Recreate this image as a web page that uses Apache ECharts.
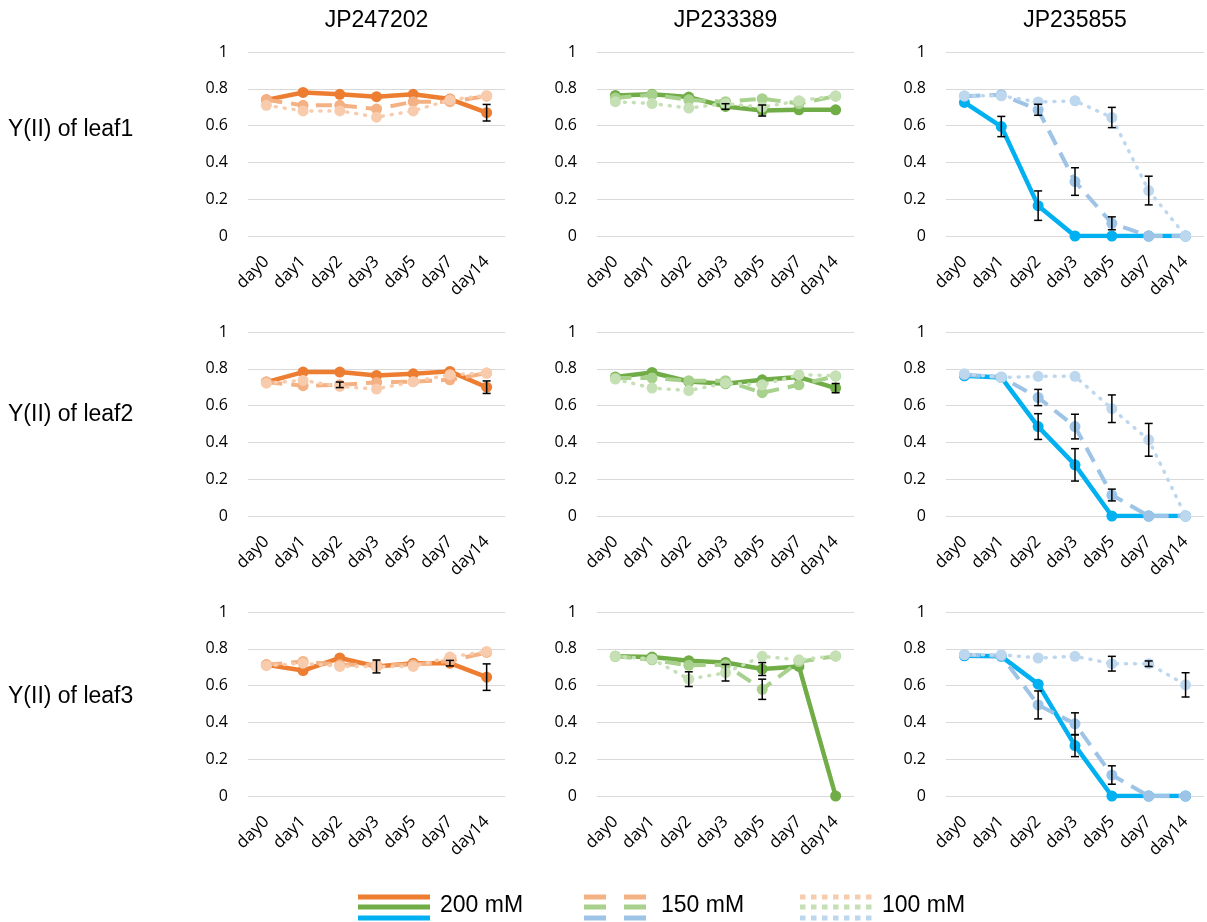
<!DOCTYPE html>
<html>
<head>
<meta charset="utf-8">
<script src="https://cdn.jsdelivr.net/npm/echarts@6/dist/echarts.min.js"></script>
<style>
html,body{margin:0;padding:0;background:#fff;}
#chart{width:1207px;height:922px;}
</style>
</head>
<body>
<div id="chart"></div>
<script>
// ---------- data ----------
const days = ['day0','day1','day2','day3','day5','day7','day14'];
const cultivars = ['JP247202','JP233389','JP235855'];
const rowLabels = ['Y(II) of leaf1','Y(II) of leaf2','Y(II) of leaf3'];
const legendLabels = ['200 mM','150 mM','100 mM'];
const yTicks = [0,0.2,0.4,0.6,0.8,1];

// leaf1
const leaf1_JP247202_200 = [0.74,0.78,0.77,0.757,0.77,0.744,0.67];
const leaf1_JP247202_150 = [0.74,0.71,0.71,0.69,0.73,0.73,0.76];
const leaf1_JP247202_100 = [0.71,0.68,0.68,0.646,0.68,0.74,0.764];
const leaf1_JP233389_200 = [0.764,0.77,0.755,0.704,0.682,0.686,0.686];
const leaf1_JP233389_150 = [0.75,0.768,0.74,0.73,0.746,0.72,0.76];
const leaf1_JP233389_100 = [0.73,0.72,0.695,0.72,0.70,0.735,0.762];
const leaf1_JP235855_200 = [0.726,0.595,0.165,0,0,0,0];
const leaf1_JP235855_150 = [0.76,0.768,0.686,0.296,0.069,0,0];
const leaf1_JP235855_100 = [0.762,0.762,0.728,0.735,0.644,0.247,0];
// leaf2
const leaf2_JP247202_200 = [0.728,0.782,0.782,0.764,0.773,0.786,0.70];
const leaf2_JP247202_150 = [0.728,0.708,0.713,0.726,0.73,0.74,0.777];
const leaf2_JP247202_100 = [0.722,0.737,0.704,0.69,0.73,0.768,0.777];
const leaf2_JP233389_200 = [0.755,0.78,0.731,0.719,0.74,0.755,0.695];
const leaf2_JP233389_150 = [0.75,0.75,0.735,0.735,0.67,0.713,0.76];
const leaf2_JP233389_100 = [0.744,0.695,0.682,0.722,0.713,0.768,0.762];
const leaf2_JP235855_200 = [0.762,0.753,0.486,0.278,0,0,0];
const leaf2_JP235855_150 = [0.768,0.755,0.644,0.486,0.114,0,0];
const leaf2_JP235855_100 = [0.773,0.753,0.759,0.759,0.583,0.414,0];
// leaf3
const leaf3_JP247202_200 = [0.713,0.682,0.75,0.704,0.722,0.722,0.646];
const leaf3_JP247202_150 = [0.713,0.731,0.713,0.713,0.713,0.735,0.78];
const leaf3_JP247202_100 = [0.708,0.722,0.704,0.704,0.704,0.755,0.786];
const leaf3_JP233389_200 = [0.759,0.755,0.735,0.726,0.69,0.704,0];
const leaf3_JP233389_150 = [0.759,0.74,0.71,0.713,0.58,0.73,0.76];
const leaf3_JP233389_100 = [0.759,0.745,0.635,0.67,0.759,0.74,0.762];
const leaf3_JP235855_200 = [0.762,0.759,0.608,0.274,0,0,0];
const leaf3_JP235855_150 = [0.768,0.762,0.495,0.392,0.114,0,0];
const leaf3_JP235855_100 = [0.768,0.768,0.75,0.759,0.719,0.719,0.604];

// error bars (± values)
const err_leaf1_JP247202_200 = [0,0,0,0,0,0,0.045];
const err_leaf1_JP247202_150 = [0,0,0,0,0,0,0];
const err_leaf1_JP247202_100 = [0,0,0,0,0,0,0];
const err_leaf1_JP233389_200 = [0,0,0,0.015,0.03,0,0];
const err_leaf1_JP233389_150 = [0,0,0,0,0,0,0];
const err_leaf1_JP233389_100 = [0,0,0,0,0,0,0];
const err_leaf1_JP235855_200 = [0,0.055,0.08,0,0,0,0];
const err_leaf1_JP235855_150 = [0,0,0.03,0.075,0.035,0,0];
const err_leaf1_JP235855_100 = [0,0,0,0,0.055,0.078,0];
const err_leaf2_JP247202_200 = [0,0,0,0,0,0,0.034];
const err_leaf2_JP247202_150 = [0,0,0.015,0,0,0,0];
const err_leaf2_JP247202_100 = [0,0,0,0,0,0,0];
const err_leaf2_JP233389_200 = [0,0,0,0,0,0,0.025];
const err_leaf2_JP233389_150 = [0,0,0,0,0,0,0];
const err_leaf2_JP233389_100 = [0,0,0,0,0,0,0];
const err_leaf2_JP235855_200 = [0,0,0.07,0.088,0,0,0];
const err_leaf2_JP235855_150 = [0,0,0.044,0.067,0.032,0,0];
const err_leaf2_JP235855_100 = [0,0,0,0,0.075,0.089,0];
const err_leaf3_JP247202_200 = [0,0,0,0.035,0,0.015,0.072];
const err_leaf3_JP247202_150 = [0,0,0,0,0,0,0];
const err_leaf3_JP247202_100 = [0,0,0,0,0,0,0];
const err_leaf3_JP233389_200 = [0,0,0,0,0.035,0,0];
const err_leaf3_JP233389_150 = [0,0,0,0,0.055,0,0];
const err_leaf3_JP233389_100 = [0,0,0.04,0.045,0,0,0];
const err_leaf3_JP235855_200 = [0,0,0,0.06,0,0,0];
const err_leaf3_JP235855_150 = [0,0,0.076,0.06,0.05,0,0];
const err_leaf3_JP235855_100 = [0,0,0,0,0.04,0.015,0.066];

// ---------- assembly ----------
const panelData = [
  [[leaf1_JP247202_200,leaf1_JP247202_150,leaf1_JP247202_100],[err_leaf1_JP247202_200,err_leaf1_JP247202_150,err_leaf1_JP247202_100]],
  [[leaf1_JP233389_200,leaf1_JP233389_150,leaf1_JP233389_100],[err_leaf1_JP233389_200,err_leaf1_JP233389_150,err_leaf1_JP233389_100]],
  [[leaf1_JP235855_200,leaf1_JP235855_150,leaf1_JP235855_100],[err_leaf1_JP235855_200,err_leaf1_JP235855_150,err_leaf1_JP235855_100]],
  [[leaf2_JP247202_200,leaf2_JP247202_150,leaf2_JP247202_100],[err_leaf2_JP247202_200,err_leaf2_JP247202_150,err_leaf2_JP247202_100]],
  [[leaf2_JP233389_200,leaf2_JP233389_150,leaf2_JP233389_100],[err_leaf2_JP233389_200,err_leaf2_JP233389_150,err_leaf2_JP233389_100]],
  [[leaf2_JP235855_200,leaf2_JP235855_150,leaf2_JP235855_100],[err_leaf2_JP235855_200,err_leaf2_JP235855_150,err_leaf2_JP235855_100]],
  [[leaf3_JP247202_200,leaf3_JP247202_150,leaf3_JP247202_100],[err_leaf3_JP247202_200,err_leaf3_JP247202_150,err_leaf3_JP247202_100]],
  [[leaf3_JP233389_200,leaf3_JP233389_150,leaf3_JP233389_100],[err_leaf3_JP233389_200,err_leaf3_JP233389_150,err_leaf3_JP233389_100]],
  [[leaf3_JP235855_200,leaf3_JP235855_150,leaf3_JP235855_100],[err_leaf3_JP235855_200,err_leaf3_JP235855_150,err_leaf3_JP235855_100]]
];

const palettes = [
  ['#ED7D31','#F4B183','#F8CBAD'],
  ['#70AD47','#A9D18E','#C5E0B4'],
  ['#00B0F0','#9DC3E6','#BDD7EE']
];
const colLeft = [248, 597, 946];
const colWidth = [257, 257, 258];
const rowTop = [52, 332, 612];
const plotH = 184;

const tickFont = '"Open Sans", "DejaVu Sans", sans-serif';
const textFont = '"Liberation Sans", Arial, sans-serif';

const grids = [], xAxes = [], yAxes = [], series = [];
for (let p = 0; p < 9; p++) {
  const r = Math.floor(p / 3), c = p % 3;
  grids.push({left: colLeft[c], top: rowTop[r], width: colWidth[c], height: plotH, containLabel: false});
  xAxes.push({
    type: 'category', gridIndex: p, data: days, boundaryGap: true,
    axisLine: {show: false}, axisTick: {show: false},
    axisLabel: {rotate: 45, interval: 0, fontSize: 17, fontFamily: tickFont, color: '#000', margin: 23},
    splitLine: {show: false}
  });
  yAxes.push({
    type: 'value', gridIndex: p, min: 0, max: 1, interval: 0.2,
    axisLine: {show: false}, axisTick: {show: false},
    axisLabel: {fontSize: 16, fontFamily: tickFont, color: '#000', margin: 20,
      formatter: v => { const t = yTicks.find(k => Math.abs(k - v) < 1e-6); return t === undefined ? '' : String(t); }},
    splitLine: {lineStyle: {color: '#D9D9D9', width: 1}}
  });
  const [vals, errs] = panelData[p];
  const pal = palettes[c];
  const styles = [
    {width: 4.5, type: 'solid'},
    {width: 4, type: [16, 9]},
    {width: 3.5, type: [1, 8], cap: 'round'}
  ];
  for (let s = 0; s < 3; s++) {
    series.push({
      type: 'line', xAxisIndex: p, yAxisIndex: p, name: legendLabels[s],
      data: vals[s], symbol: 'circle', symbolSize: 11, showSymbol: true,
      itemStyle: {color: pal[s], borderWidth: 0},
      lineStyle: Object.assign({color: pal[s]}, styles[s]),
      z: 2 + s, silent: true, animation: false
    });
  }
  // error bars
  const ebData = [];
  for (let s = 0; s < 3; s++) {
    for (let i = 0; i < days.length; i++) {
      if (errs[s][i] > 0) ebData.push([i, vals[s][i], errs[s][i]]);
    }
  }
  series.push({
    type: 'custom', xAxisIndex: p, yAxisIndex: p, data: ebData, z: 10, silent: true, animation: false,
    encode: {x: 0, y: 1},
    renderItem: function (params, api) {
      const x = api.value(0), v = api.value(1), e = api.value(2);
      const top = api.coord([x, v + e]);
      const bot = api.coord([x, v - e]);
      const hw = 4;
      const st = {stroke: '#000', lineWidth: 1.5};
      return {type: 'group', children: [
        {type: 'line', shape: {x1: top[0], y1: top[1], x2: bot[0], y2: bot[1]}, style: st},
        {type: 'line', shape: {x1: top[0] - hw, y1: top[1], x2: top[0] + hw, y2: top[1]}, style: st},
        {type: 'line', shape: {x1: bot[0] - hw, y1: bot[1], x2: bot[0] + hw, y2: bot[1]}, style: st}
      ]};
    }
  });
}

// text & legend graphics
const graphics = [];
for (let c = 0; c < 3; c++) {
  graphics.push({type: 'text', x: colLeft[c] + colWidth[c] / 2, y: 21,
    style: {text: cultivars[c], font: '23px ' + textFont, fill: '#000', align: 'center', verticalAlign: 'middle', textAlign: 'center', textVerticalAlign: 'middle'}});
}
const rowLabelY = [130, 415, 697];
for (let r = 0; r < 3; r++) {
  graphics.push({type: 'text', x: 8, y: rowLabelY[r],
    style: {text: rowLabels[r], font: '23px ' + textFont, fill: '#000', align: 'left', verticalAlign: 'middle', textAlign: 'left', textVerticalAlign: 'middle'}});
}
const legX = [[358, 430], [584, 650], [800, 872]];
const legTextX = [440, 661, 882];
const legLineY = [897, 907, 918];
const legDash = [null, [22, 18], [5.5, 5.5]];
for (let s = 0; s < 3; s++) {
  for (let c = 0; c < 3; c++) {
    const st = {stroke: palettes[c][s], lineWidth: 5};
    if (legDash[s]) st.lineDash = legDash[s];
    graphics.push({type: 'line', shape: {x1: legX[s][0], y1: legLineY[c], x2: legX[s][1], y2: legLineY[c]}, style: st});
  }
  graphics.push({type: 'text', x: legTextX[s], y: 906,
    style: {text: legendLabels[s], font: '23px ' + textFont, fill: '#000', align: 'left', verticalAlign: 'middle', textAlign: 'left', textVerticalAlign: 'middle'}});
}

const chart = echarts.init(document.getElementById('chart'), null, {renderer: 'canvas'});
chart.setOption({
  animation: false,
  backgroundColor: '#fff',
  grid: grids, xAxis: xAxes, yAxis: yAxes, series: series,
  graphic: graphics
});
</script>
</body>
</html>
